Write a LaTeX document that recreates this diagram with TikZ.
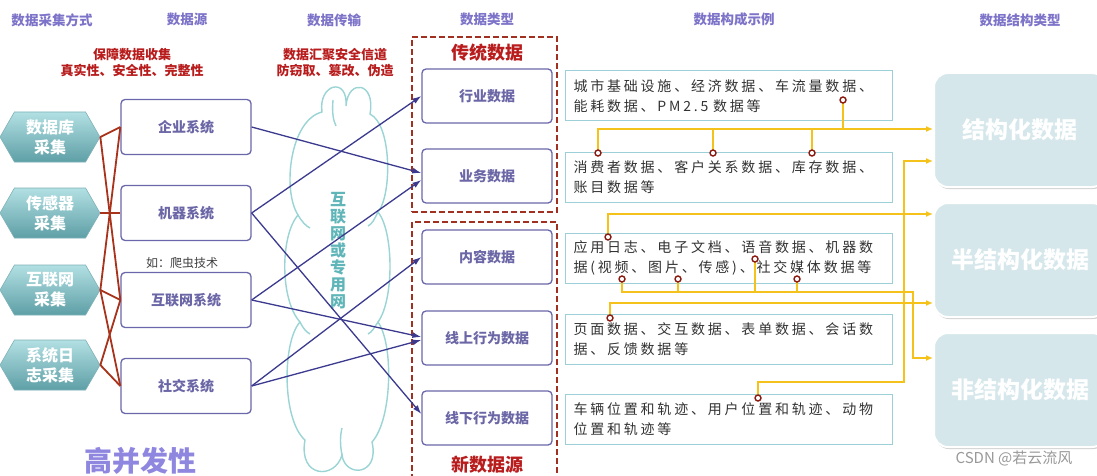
\documentclass[tikz,border=0pt]{standalone}
\usepackage{fontspec}
\setmainfont{Noto Sans CJK SC}
\newfontfamily\exfont[LetterSpace=20]{Noto Sans CJK SC}
\usetikzlibrary{arrows.meta,shapes.symbols,shadows,calc}
\definecolor{hdrc}{HTML}{7D74C9}
\definecolor{redt}{HTML}{B81C1C}
\definecolor{redl}{HTML}{A8321A}
\definecolor{boxb}{HTML}{6A68AA}
\definecolor{boxt}{HTML}{6B66A6}
\definecolor{arrc}{HTML}{3B3A8F}
\definecolor{cloudc}{HTML}{9AD4D4}
\definecolor{cloudt}{HTML}{5FB5B8}
\definecolor{exb}{HTML}{9CCFD8}
\definecolor{yel}{HTML}{F5C21B}
\definecolor{dotc}{HTML}{8B1A10}
\definecolor{stf}{HTML}{D5E7EB}
\definecolor{dashc}{HTML}{A03020}
\definecolor{hextop}{HTML}{B2E0E3}
\definecolor{hexbot}{HTML}{5E9FA6}
\definecolor{bigc}{HTML}{8F86E0}
\begin{document}
\begin{tikzpicture}[x=1pt,y=-1pt,
  hdr/.style={font=\fontsize{13.5}{16}\selectfont\bfseries, text=hdrc, inner sep=0pt},
  redtxt/.style={font=\fontsize{13}{16}\selectfont\bfseries, text=redt, inner sep=0pt},
  hexbox/.style={signal, signal to=east and west, signal pointer angle=120,
    minimum width=100pt, minimum height=50pt, inner sep=0pt,
    top color=hextop, bottom color=hexbot, draw=hexbot!80, line width=0.6pt,
    text=white, font=\fontsize{16}{20}\selectfont\bfseries, align=center},
  srcbox/.style={draw=boxb, line width=1.3pt, rounded corners=4pt, fill=white,
    minimum width=130pt, minimum height=55pt, text=boxt,
    font=\fontsize{14}{16}\selectfont\bfseries},
  typebox/.style={srcbox, minimum height=54pt},
  exbox/.style={draw=exb, line width=1pt, fill=white, minimum width=327pt,
    minimum height=50pt, text width=310pt, align=left, inner xsep=8.5pt,
    font=\exfont\fontsize{14}{20}\selectfont, text=black!80},
  stbox/.style={fill=stf, draw=white, line width=2pt, rounded corners=14pt,
    minimum width=172pt, minimum height=114pt,
    drop shadow={shadow xshift=1pt, shadow yshift=-2pt, opacity=0.35, fill=gray},
    text=white, font=\fontsize{23}{26}\selectfont\bfseries},
  dotnode/.style={circle, draw=dotc, line width=1.4pt, fill=white, inner sep=0pt, minimum size=6pt},
  yl/.style={draw=yel, line width=1.5pt},
  yarr/.style={yl, -{Latex[length=7pt,width=6pt]}},
  barr/.style={draw=arrc, line width=1.3pt, -{Latex[length=9pt,width=6pt]}},
  rl/.style={draw=redl, line width=1.8pt},
  dashbox/.style={draw=dashc, line width=1.8pt, dash pattern=on 6pt off 3pt},
  cloudline/.style={draw=cloudc, line width=1.4pt},
  titletxt/.style={font=\fontsize{18}{20}\selectfont\bfseries, text=redt, inner sep=0pt}
]
\useasboundingbox (0,0) rectangle (1097,476);
\fill[white] (0,0) rectangle (1097,476);

% headers
\node[hdr] (h1t) at (52,20) {数据采集方式};
\node[hdr] (h2t) at (187,19) {数据源};
\node[hdr] (h3t) at (334,20) {数据传输};
\node[hdr] (h4t) at (487,19) {数据类型};
\node[hdr] (h5t) at (734,19) {数据构成示例};
\node[hdr] (h6t) at (1020,20) {数据结构类型};

% red notes
\node[redtxt] (n1) at (132,55) {保障数据收集};
\node[redtxt] (n2) at (132,71) {真实性、安全性、完整性};
\node[redtxt] (n3) at (335,55) {数据汇聚安全信道};
\node[redtxt] (n4) at (335,71) {防窃取、篡改、伪造};

% cloud outline
\draw[cloudline] (322,112)
  .. controls (318,84) and (348,76) .. (346,106)
  .. controls (348,78) and (376,82) .. (370,114)
  .. controls (392,125) and (392,195) .. (378,212)
  .. controls (394,232) and (394,300) .. (378,322)
  .. controls (394,345) and (392,420) .. (372,442)
  .. controls (380,476) and (345,478) .. (342,455)
  .. controls (335,480) and (298,478) .. (305,440)
  .. controls (282,420) and (282,342) .. (300,322)
  .. controls (280,300) and (280,236) .. (298,215)
  .. controls (282,190) and (290,120) .. (322,112) -- cycle;
% inner strokes of the cloud
\draw[cloudline] (333,100) .. controls (332,112) and (333,120) .. (336,126);
\draw[cloudline] (298,215) .. controls (302,222) and (306,226) .. (310,228);
\draw[cloudline] (300,322) .. controls (303,328) and (306,332) .. (310,334);
\draw[cloudline] (378,212) .. controls (374,220) and (372,224) .. (368,226);
\draw[cloudline] (378,322) .. controls (374,328) and (372,332) .. (368,334);
\draw[cloudline] (342,455) .. controls (340,445) and (340,436) .. (342,428);
\node[font=\fontsize{16}{17}\selectfont\bfseries, text=cloudt, align=center, inner sep=0pt] (clt) at (338,251)
  {互\\联\\网\\或\\专\\用\\网};

% hexagons
\node[hexbox] (hx1) at (50,137) {数据库\\采集};
\node[hexbox] (hx2) at (50,213) {传感器\\采集};
\node[hexbox] (hx3) at (50,290) {互联网\\采集};
\node[hexbox] (hx4) at (50,365) {系统日\\志采集};

% source boxes
\node[srcbox] (s1) at (186,127) {企业系统};
\node[srcbox] (s2) at (186,213) {机器系统};
\node[srcbox] (s3) at (186,300) {互联网系统};
\node[srcbox] (s4) at (186,386) {社交系统};
\node[font=\fontsize{12}{14}\selectfont, text=black!75, inner sep=0pt] (eg) at (182,263) {如：爬虫技术};

% red connectors
\draw[rl] (hx1.east) -- (s1.west);
\draw[rl] (hx1.east) -- (s3.west);
\draw[rl] (hx3.east) -- (s1.west);
\draw[rl] (hx2.east) -- (s2.west);
\draw[rl] (hx3.east) -- (s3.west);
\draw[rl] (hx4.east) -- (s4.west);
\draw[rl] (hx3.east) -- (s4.west);
\draw[rl] (hx4.east) -- (s3.west);

% dashed groups
\node[dashbox, minimum width=145pt, minimum height=175pt, inner sep=0pt] (g1) at (484.5,124.5) {};
\draw[dashbox] (412,480) -- (412,222) -- (557,222) -- (557,480);
\node[titletxt] (g1t) at (487,53) {传统数据};
\node[titletxt] (g2t) at (487,465) {新数据源};

% type boxes
\node[typebox] (t1) at (487,96) {行业数据};
\node[typebox] (t2) at (487,176) {业务数据};
\node[typebox] (t3) at (487,257) {内容数据};
\node[typebox] (t4) at (487,338) {线上行为数据};
\node[typebox] (t5) at (487,418) {线下行为数据};

% blue arrows
\draw[barr] (s1.east) -- ($(t2.west)+(0,-3)$);
\draw[barr] (s2.east) -- (t1.west);
\draw[barr] (s2.east) -- ($(t5.west)+(0,-4)$);
\draw[barr] (s3.east) -- ($(t2.west)+(0,4)$);
\draw[barr] (s3.east) -- ($(t4.west)+(0,-1)$);
\draw[barr] (s4.east) -- (t3.west);
\draw[barr] (s4.east) -- ($(t4.west)+(0,2)$);

% example boxes
\node[exbox] (e1) at (728.5,96) {城市基础设施、经济数据、车流量数据、\\能耗数据、PM2.5 数据等};
\node[exbox] (e2) at (728.5,177) {消费者数据、客户关系数据、库存数据、\\账目数据等};
\node[exbox] (e3) at (728.5,258) {应用日志、电子文档、语音数据、机器数\\据(视频、图片、传感)、社交媒体数据等};
\node[exbox] (e4) at (728.5,339.5) {页面数据、交互数据、表单数据、会话数\\据、反馈数据等};
\node[exbox] (e5) at (728.5,419.5) {车辆位置和轨迹、用户位置和轨迹、动物\\位置和轨迹等};

% structure boxes
\node[stbox] (st1) at (1020,130) {结构化数据};
\node[stbox] (st2) at (1020,260) {半结构化数据};
\node[stbox] (st3) at (1020,390) {非结构化数据};

% yellow routing
\coordinate (d11) at (843,100);
\coordinate (d21) at (598,153);
\coordinate (d22) at (713,153);
\coordinate (d23) at (812,153);
\coordinate (d31) at (608,237);
\coordinate (d32) at (622,279);
\coordinate (d33) at (678,279);
\coordinate (d34) at (755,259);
\coordinate (d35) at (797,279);
\coordinate (d41) at (610,318);
\coordinate (d51) at (758,398);
\coordinate (r1) at (933,129);
\coordinate (r2) at (933,161);
\coordinate (r3) at (933,214);
\coordinate (r4) at (933,303);
\coordinate (r5) at (933,358);
\coordinate (k5) at (904,382);
\coordinate (k3) at (913,292);

\draw[yarr] (d21) |- (r1);
\draw[yl] (d22) -- (d22 |- r1);
\draw[yl] (d23) -- (d23 |- r1);
\draw[yl] (d11) -- (d11 |- r1);
\draw[yarr] (d51) |- (k5) |- (r2);
\draw[yarr] (d31) |- (r3);
\draw[yarr] (d41) |- (r4);
\draw[yarr] (d32) |- (k3) |- (r5);
\draw[yl] (d33) -- (d33 |- k3);
\draw[yl] (d34) -- (d34 |- k3);
\draw[yl] (d35) -- (d35 |- k3);

\foreach \d in {d11,d21,d22,d23,d31,d32,d33,d34,d35,d41,d51}
  \node[dotnode] (dot\d) at (\d) {};

% bottom texts
\node[font=\fontsize{28}{30}\selectfont\bfseries, text=bigc, inner sep=0pt] (big) at (140,461) {高并发性};
\node[font=\fontsize{15}{17}\selectfont, text=black!40, inner sep=0pt] (wm) at (1014,458) {CSDN @若云流风};
\end{tikzpicture}
\end{document}
